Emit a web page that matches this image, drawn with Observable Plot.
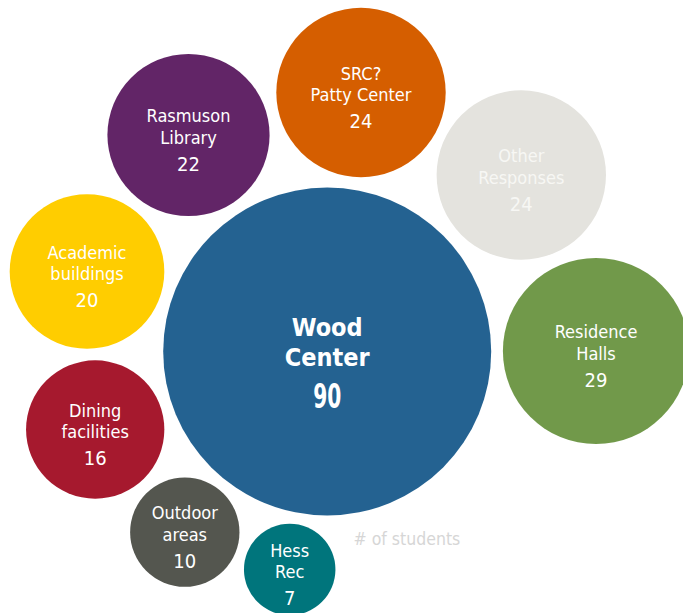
<!DOCTYPE html>
<html>
<head>
<meta charset="utf-8">
<script src="https://cdn.jsdelivr.net/npm/d3@7"></script>
<script src="https://cdn.jsdelivr.net/npm/@observablehq/plot@0.6"></script>
<style>
  html, body { margin: 0; padding: 0; background: #ffffff; overflow: hidden; }
  #chart { width: 683px; height: 613px; }
</style>
</head>
<body>
<div id="chart"></div>
<script>
// ---- data ----
const categories = ["Wood Center", "Rasmuson Library", "SRC? Patty Center", "Other Responses",
  "Residence Halls", "Academic buildings", "Dining facilities", "Outdoor areas", "Hess Rec"];
const labelLine1 = ["Wood", "Rasmuson", "SRC?", "Other", "Residence", "Academic", "Dining", "Outdoor", "Hess"];
const labelLine2 = ["Center", "Library", "Patty Center", "Responses", "Halls", "buildings", "facilities", "areas", "Rec"];
const students = [90, 22, 24, 24, 29, 20, 16, 10, 7];
const unitLabel = "# of students";

// ---- layout (bubble centres, in page units) ----
const layoutX = [326.7, 188, 360.5, 520.8, 595.5, 86.5, 94.7, 184.3, 289.2];
const layoutY = [351, 134.5, 92, 174.5, 350.5, 271, 429, 531.7, 569];

// ---- styles ----
const fillColors = ["#246291", "#622567", "#d55e00", "#e4e3de", "#71994a", "#ffcd00", "#a6192e", "#54564f", "#00757c"];
const textColors = ["#ffffff", "#ffffff", "#ffffff", "#f7f7f4", "#ffffff", "#ffffff", "#ffffff", "#ffffff", "#ffffff"];

const rows = categories.map((c, i) => ({
  category: c, line1: labelLine1[i], line2: labelLine2[i], value: students[i],
  x: layoutX[i], y: layoutY[i], fill: fillColors[i], ink: textColors[i]
}));
const maxV = d3.max(students);
const big = rows.filter(d => d.value === maxV);
const small = rows.filter(d => d.value !== maxV);

const font = "'DejaVu Sans Condensed', 'DejaVu Sans', sans-serif";

const plot = Plot.plot({
  width: 683,
  height: 613,
  margin: 0,
  x: {domain: [0, 683], range: [0, 683], axis: null},
  y: {domain: [0, 613], range: [0, 613], axis: null},
  r: {type: "sqrt", domain: [0, 90], range: [0, 164]},
  color: {type: "identity"},
  style: {fontFamily: font, background: "#ffffff"},
  marks: [
    Plot.dot(rows, {x: "x", y: "y", r: "value", fill: "fill", stroke: null}),
    // big bubble labels
    Plot.text(big, {x: "x", y: "y", text: "line1", dy: -24, fill: "ink", fontSize: 25, fontWeight: "bold"}),
    Plot.text(big, {x: "x", y: "y", text: "line2", dy: 6, fill: "ink", fontSize: 25, fontWeight: "bold"}),
    Plot.text(big, {x: "x", y: "y", text: d => String(d.value), dy: 46, fill: "ink", fontSize: 34, fontWeight: "bold"}),
    // small bubble labels
    Plot.text(small, {x: "x", y: "y", text: "line1", dy: -18.5, fill: "ink", fontSize: 18}),
    Plot.text(small, {x: "x", y: "y", text: "line2", dy: 3, fill: "ink", fontSize: 18}),
    Plot.text(small, {x: "x", y: "y", text: d => String(d.value), dy: 29.5, fill: "ink", fontSize: 20}),
    // unit note
    Plot.text([unitLabel], {frameAnchor: "top-left", dx: 353, dy: 538.5, text: d => d, textAnchor: "start",
      lineAnchor: "middle", fill: "#d6d6d6", fontSize: 17.5})
  ]
});
// narrow, tall numerals for the central bubble's value
d3.select(plot).selectAll("text")
  .filter(function () { return this.textContent === String(maxV) && this.getAttribute("font-size") === "34"; })
  .each(function () {
    const t = this.getAttribute("transform") || "";
    this.setAttribute("transform", t + " scale(0.66,1)");
  });
d3.select(plot).selectAll("g[font-size='34'] text")
  .each(function () {
    const t = this.getAttribute("transform") || "";
    if (!t.includes("scale")) this.setAttribute("transform", t + " scale(0.66,1)");
  });
document.getElementById("chart").appendChild(plot);
</script>
</body>
</html>
